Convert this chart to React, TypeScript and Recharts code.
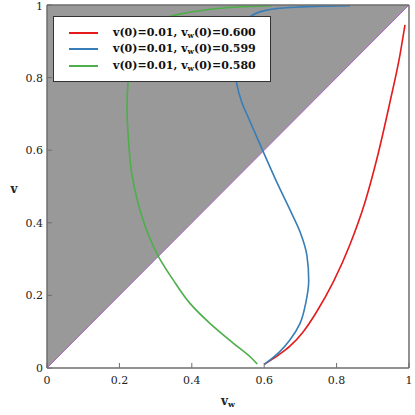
import React from 'react';
import { ComposedChart, Line, Area, XAxis, YAxis, Legend } from 'recharts';

// ---- tick values / labels ----
const majorTicks = [0, 0.2, 0.4, 0.6, 0.8, 1];
const minorTicks = [0.05, 0.1, 0.15, 0.25, 0.3, 0.35, 0.45, 0.5, 0.55, 0.65, 0.7, 0.75, 0.85, 0.9, 0.95];
const tickLabels = ['0', '0.2', '0.4', '0.6', '0.8', '1'];

// ---- diagonal v = v_w (boundary of shaded region) ----
const diagVw = [0, 1];
const diagV = [0, 1];

// ---- series: v(0)=0.01, v_w(0)=0.600 ----
const redVw = [0.600, 0.640, 0.671, 0.708, 0.745, 0.791, 0.837, 0.878, 0.911, 0.948, 0.975, 0.989];
const redV = [0.010, 0.036, 0.060, 0.100, 0.155, 0.237, 0.340, 0.455, 0.575, 0.735, 0.862, 0.945];

// ---- series: v(0)=0.01, v_w(0)=0.599 ----
const blueVw = [0.600, 0.620, 0.643, 0.671, 0.699, 0.715, 0.723, 0.718, 0.701, 0.673, 0.638, 0.600, 0.578, 0.556, 0.537, 0.524, 0.518, 0.522, 0.537, 0.561, 0.607, 0.671, 0.763, 0.837];
const blueV = [0.010, 0.025, 0.045, 0.077, 0.123, 0.180, 0.242, 0.310, 0.370, 0.432, 0.505, 0.590, 0.640, 0.690, 0.735, 0.784, 0.840, 0.895, 0.940, 0.968, 0.986, 0.993, 0.997, 0.998];

// ---- series: v(0)=0.01, v_w(0)=0.580 ----
const greenVw = [0.581, 0.561, 0.515, 0.450, 0.395, 0.349, 0.308, 0.275, 0.250, 0.234, 0.225, 0.221, 0.224, 0.234, 0.254, 0.288, 0.328, 0.367, 0.423, 0.487, 0.561, 0.620];
const greenV = [0.011, 0.031, 0.068, 0.123, 0.178, 0.242, 0.307, 0.380, 0.460, 0.536, 0.628, 0.720, 0.790, 0.850, 0.905, 0.945, 0.965, 0.975, 0.984, 0.992, 0.996, 0.998];

// ---- legend text ----
const seriesV0 = ['0.01', '0.01', '0.01'];
const seriesVw0 = ['0.600', '0.599', '0.580'];
const seriesColors = ['#e41a1c', '#377eb8', '#4daf4a'];
const seriesCurve = ['monotoneX', 'monotoneY', 'monotoneY'];

const zip = (xs: number[], ys: number[]) => xs.map((x, i) => ({ vw: x, v: ys[i] }));

const diagData = zip(diagVw, diagV);
const redData = zip(redVw, redV);
const blueData = zip(blueVw, blueV);
const greenData = zip(greenVw, greenV);
const seriesData = [redData, blueData, greenData];

const FRAME = '#6e6e6e';
const SERIF = '"DejaVu Serif", serif';
const tickStyle = { fontFamily: SERIF, fontSize: 11, fill: '#222' };
const fmt = (v: number) => {
  const i = majorTicks.indexOf(v);
  return i >= 0 ? tickLabels[i] : String(v);
};
const THIN = 0.01;

const XTitle = (props: any) => {
  const vb = props.viewBox || {};
  return (
    <text x={vb.x + vb.width / 2} y={vb.y + 37} textAnchor="middle" fontFamily={SERIF} fontWeight="bold" fontSize={12} fill="#222">
      <tspan>v</tspan>
      <tspan fontSize={8} dy={2}>w</tspan>
    </text>
  );
};

const YTitle = (props: any) => {
  const vb = props.viewBox || {};
  return (
    <text x={vb.x - 33} y={vb.y + vb.height / 2 + 6} textAnchor="middle" fontFamily={SERIF} fontWeight="bold" fontSize={12} fill="#222">
      v
    </text>
  );
};

const renderLegend = () => (
  <div
    style={{
      position: 'relative',
      width: 216,
      height: 64,
      background: '#fff',
      border: '1px solid #333',
      fontFamily: SERIF,
      fontWeight: 'bold',
      fontSize: 11,
      color: '#111',
    }}
  >
    {seriesColors.map((c, i) => (
      <React.Fragment key={i}>
        <div style={{ position: 'absolute', left: 15, top: 14.5 + i * 16.5, width: 29, height: 2, background: c }} />
        <div style={{ position: 'absolute', left: 59, top: 7.5 + i * 16.5, height: 16, lineHeight: '16px', whiteSpace: 'nowrap' }}>
          v(0)={seriesV0[i]}, v<sub style={{ fontSize: 7.5, verticalAlign: '-2px', lineHeight: 0 }}>w</sub>(0)={seriesVw0[i]}
        </div>
      </React.Fragment>
    ))}
  </div>
);

export default function App() {
  return (
    <div style={{ position: 'absolute', left: 0, top: 0 }}>
      <ComposedChart width={415} height={415} margin={{ top: 5, right: 6, bottom: 47, left: 47 }}>
        {/* bottom: major with labels */}
        <XAxis
          dataKey="vw"
          type="number"
          domain={[0, 1]}
          allowDataOverflow
          ticks={majorTicks}
          tickFormatter={fmt}
          height={THIN}
          tickSize={-5}
          tickMargin={13}
          tick={tickStyle}
          axisLine={{ stroke: FRAME, strokeWidth: 1.5 }}
          tickLine={{ stroke: FRAME, strokeWidth: 1 }}
          label={<XTitle />}
        />
        <XAxis xAxisId="bminor" dataKey="vw" type="number" domain={[0, 1]} allowDataOverflow ticks={minorTicks} height={THIN} tickSize={-3} tick={false} axisLine={false} tickLine={{ stroke: FRAME, strokeWidth: 1 }} />
        <XAxis xAxisId="top" orientation="top" dataKey="vw" type="number" domain={[0, 1]} allowDataOverflow ticks={majorTicks} height={THIN} tickSize={-5} tick={false} axisLine={{ stroke: FRAME, strokeWidth: 1.5 }} tickLine={{ stroke: FRAME, strokeWidth: 1 }} />
        <XAxis xAxisId="tminor" orientation="top" dataKey="vw" type="number" domain={[0, 1]} allowDataOverflow ticks={minorTicks} height={THIN} tickSize={-3} tick={false} axisLine={false} tickLine={{ stroke: FRAME, strokeWidth: 1 }} />

        {/* left: major with labels */}
        <YAxis
          dataKey="v"
          type="number"
          domain={[0, 1]}
          allowDataOverflow
          ticks={majorTicks}
          tickFormatter={fmt}
          width={THIN}
          tickSize={-5}
          tickMargin={9}
          tick={tickStyle}
          axisLine={{ stroke: FRAME, strokeWidth: 1.5 }}
          tickLine={{ stroke: FRAME, strokeWidth: 1 }}
          label={<YTitle />}
        />
        <YAxis yAxisId="lminor" dataKey="v" type="number" domain={[0, 1]} allowDataOverflow ticks={minorTicks} width={THIN} tickSize={-3} tick={false} axisLine={false} tickLine={{ stroke: FRAME, strokeWidth: 1 }} />
        <YAxis yAxisId="right" orientation="right" dataKey="v" type="number" domain={[0, 1]} allowDataOverflow ticks={majorTicks} width={THIN} tickSize={-5} tick={false} axisLine={{ stroke: FRAME, strokeWidth: 1.5 }} tickLine={{ stroke: FRAME, strokeWidth: 1 }} />
        <YAxis yAxisId="rminor" orientation="right" dataKey="v" type="number" domain={[0, 1]} allowDataOverflow ticks={minorTicks} width={THIN} tickSize={-3} tick={false} axisLine={false} tickLine={{ stroke: FRAME, strokeWidth: 1 }} />

        <Area
          data={diagData}
          dataKey="v"
          type="linear"
          baseValue="dataMax"
          fill="#999999"
          fillOpacity={1}
          stroke="#b060c8"
          strokeWidth={1}
          legendType="none"
          isAnimationActive={false}
        />
        {seriesData.map((d, i) => (
          <Line
            key={i}
            data={d}
            dataKey="v"
            type={seriesCurve[i] as any}
            stroke={seriesColors[i]}
            strokeWidth={1.6}
            dot={false}
            activeDot={false}
            name={`v(0)=${seriesV0[i]}, vw(0)=${seriesVw0[i]}`}
            isAnimationActive={false}
          />
        ))}

        <Legend
          layout="vertical"
          align="center"
          verticalAlign="middle"
          content={renderLegend}
          wrapperStyle={{ left: 53, top: 16, width: 218, height: 66 }}
        />
      </ComposedChart>
    </div>
  );
}
